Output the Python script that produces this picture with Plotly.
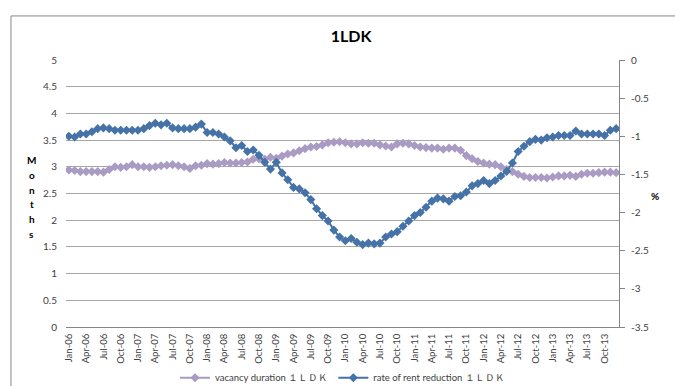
import plotly.graph_objects as go

# Monthly categories Jan-06 .. Dec-13
months = ["Jan", "Feb", "Mar", "Apr", "May", "Jun",
          "Jul", "Aug", "Sep", "Oct", "Nov", "Dec"]
years = ["06", "07", "08", "09", "10", "11", "12", "13"]
categories = [f"{m}-{y}" for y in years for m in months]
tick_labels = categories[::3]

# Axis tick values
left_ticks = [0, 0.5, 1, 1.5, 2, 2.5, 3, 3.5, 4, 4.5, 5]
right_ticks = [0, -0.5, -1, -1.5, -2, -2.5, -3, -3.5]

# Vacancy duration (months), left axis
vacancy_duration = [
    2.94, 2.93, 2.91, 2.91, 2.91, 2.91, 2.90, 2.95, 3.00, 2.99, 3.00, 3.04,
    3.00, 3.00, 2.99, 3.00, 3.02, 3.03, 3.04, 3.02, 3.00, 2.97, 3.02, 3.03,
    3.06, 3.05, 3.06, 3.08, 3.07, 3.07, 3.08, 3.09, 3.14, 3.15, 3.14, 3.18,
    3.16, 3.20, 3.24, 3.26, 3.30, 3.34, 3.37, 3.38, 3.41, 3.45, 3.46, 3.47,
    3.45, 3.43, 3.43, 3.45, 3.44, 3.44, 3.41, 3.39, 3.37, 3.43, 3.44, 3.43,
    3.40, 3.37, 3.36, 3.35, 3.35, 3.33, 3.35, 3.35, 3.31, 3.21, 3.15, 3.10,
    3.07, 3.05, 3.04, 3.00, 2.95, 2.91, 2.86, 2.82, 2.80, 2.80, 2.80, 2.79,
    2.81, 2.83, 2.83, 2.84, 2.82, 2.86, 2.88, 2.88, 2.89, 2.90, 2.90, 2.89,
]

# Rate of rent reduction (%), right axis
rent_reduction = [
    -1.00, -1.01, -0.97, -0.97, -0.94, -0.90, -0.89, -0.90, -0.92, -0.92, -0.92, -0.92,
    -0.92, -0.90, -0.86, -0.83, -0.85, -0.83, -0.89, -0.90, -0.90, -0.90, -0.88, -0.84,
    -0.95, -0.95, -0.97, -1.01, -1.06, -1.15, -1.12, -1.20, -1.18, -1.25, -1.34, -1.43,
    -1.34, -1.48, -1.57, -1.67, -1.69, -1.74, -1.83, -1.95, -2.04, -2.11, -2.23, -2.32,
    -2.37, -2.34, -2.39, -2.42, -2.40, -2.41, -2.40, -2.32, -2.28, -2.25, -2.18, -2.11,
    -2.04, -2.00, -1.93, -1.85, -1.81, -1.82, -1.85, -1.79, -1.78, -1.73, -1.65, -1.62,
    -1.58, -1.62, -1.58, -1.52, -1.46, -1.35, -1.20, -1.13, -1.07, -1.04, -1.05, -1.02,
    -1.01, -0.99, -0.99, -0.99, -0.93, -0.97, -0.97, -0.97, -0.97, -0.99, -0.92, -0.90,
]

PURPLE = "#A99BC3"
BLUE = "#4572A7"
FONT = "Lato"
TEXT = "#404040"
AXIS = "#868686"

fig = go.Figure()
fig.add_trace(go.Scatter(
    x=categories, y=vacancy_duration, name="vacancy duration １ＬＤＫ",
    mode="lines+markers", yaxis="y",
    line=dict(color=PURPLE, width=2),
    marker=dict(symbol="diamond", size=7, color=PURPLE),
))
fig.add_trace(go.Scatter(
    x=categories, y=rent_reduction, name="rate of rent reduction １ＬＤＫ",
    mode="lines+markers", yaxis="y2",
    line=dict(color=BLUE, width=2),
    marker=dict(symbol="diamond", size=7, color=BLUE),
))

# Vertical, letter-per-line title for the left axis
plot_top, plot_h = 60, 267
axis_letters = list("Months")
letter_annotations = [
    dict(text=f"<b>{ch}</b>", xref="paper", yref="paper",
         x=-0.062, y=(plot_top + plot_h - (160 + 14.8 * i)) / plot_h,
         xanchor="center", yanchor="middle", showarrow=False,
         font=dict(size=10, color="black"))
    for i, ch in enumerate(axis_letters)
]

fig.update_layout(
    width=675, height=386,
    margin=dict(l=66, r=56, t=60, b=59, autoexpand=False),
    paper_bgcolor="white", plot_bgcolor="white",
    font=dict(family=FONT, size=10, color=TEXT),
    showlegend=True,
    legend=dict(orientation="h", x=0.5, xanchor="center", y=-0.19, yanchor="middle",
                font=dict(size=9.5, color=TEXT), itemwidth=30,
                bgcolor="rgba(0,0,0,0)"),
    xaxis=dict(
        type="category", categoryorder="array", categoryarray=categories,
        range=[-0.5, len(categories) - 0.5],
        tickmode="array", tickvals=tick_labels, ticktext=tick_labels,
        tickangle=-90, tickfont=dict(size=9.5, color=TEXT),
        showgrid=False, showline=True, linecolor=AXIS, linewidth=1,
        ticks="", zeroline=False, automargin=False, ticklabelstandoff=2,
    ),
    yaxis=dict(
        range=[0, 5], tickmode="array", tickvals=left_ticks,
        ticktext=[f"{v:g}" for v in left_ticks],
        showgrid=True, gridcolor="#a6a6a6", gridwidth=1,
        zeroline=False, showline=False, ticks="", automargin=False,
        ticklabelstandoff=8,
        tickfont=dict(size=10, color=TEXT),
    ),
    yaxis2=dict(
        range=[-3.5, 0], tickmode="array", tickvals=right_ticks,
        ticktext=[f"{v:g}" for v in right_ticks],
        overlaying="y", side="right",
        showgrid=False, zeroline=False, automargin=False,
        showline=True, linecolor=AXIS, linewidth=1,
        ticks="outside", ticklen=5, tickcolor=AXIS,
        ticklabelstandoff=4,
        tickfont=dict(size=10, color=TEXT),
    ),
    title=dict(text="<b>1LDK</b>", x=0.52, xanchor="center", y=0.905, yanchor="middle",
               font=dict(family=FONT, size=16, color="black")),
    shapes=[dict(type="rect", xref="paper", yref="paper",
                 x0=-0.0995, x1=1.2, y0=-0.3, y1=1.165,
                 line=dict(color=AXIS, width=1), layer="below")],
    annotations=letter_annotations + [
        dict(text="<b>%</b>", xref="paper", yref="paper",
             x=1.065, y=0.49, xanchor="center", yanchor="middle", showarrow=False,
             font=dict(size=10, color="black")),
    ],
)

fig.write_html("out.html")
